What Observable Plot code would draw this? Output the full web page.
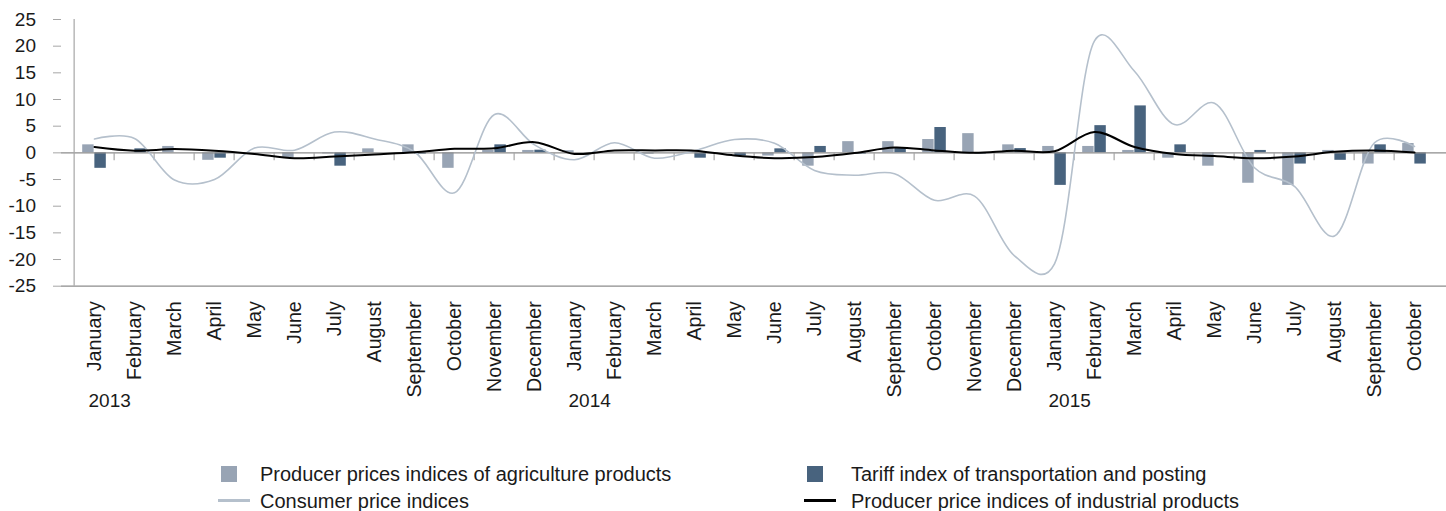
<!DOCTYPE html>
<html>
<head>
<meta charset="utf-8">
<script src="https://cdn.jsdelivr.net/npm/d3@7"></script>
<script src="https://cdn.jsdelivr.net/npm/@observablehq/plot@0.6"></script>
<style>
  html, body { margin: 0; padding: 0; background: #fff; }
  body { font-family: "Liberation Sans", Arial, sans-serif; }
  #wrap { position: relative; width: 1446px; height: 511px; overflow: hidden; }
  #chart svg { display: block; }
  .leg { position: absolute; font-size: 20px; line-height: 20px; color: #1a1a1a; white-space: nowrap; }
  .sw { position: absolute; }
</style>
</head>
<body>
<div id="wrap">
  <div id="chart"></div>
  <div id="legend"></div>
</div>
<script>
// ---- data ----
const periods = [
  "2013-01","2013-02","2013-03","2013-04","2013-05","2013-06","2013-07","2013-08","2013-09","2013-10","2013-11","2013-12",
  "2014-01","2014-02","2014-03","2014-04","2014-05","2014-06","2014-07","2014-08","2014-09","2014-10","2014-11","2014-12",
  "2015-01","2015-02","2015-03","2015-04","2015-05","2015-06","2015-07","2015-08","2015-09","2015-10"
];
const monthLabels = [
  "January","February","March","April","May","June","July","August","September","October","November","December",
  "January","February","March","April","May","June","July","August","September","October","November","December",
  "January","February","March","April","May","June","July","August","September","October"
];
const years = ["2013", "2014", "2015"];
const yearStarts = ["2013-01", "2014-01", "2015-01"];
const yTicks = [-25, -20, -15, -10, -5, 0, 5, 10, 15, 20, 25];

// Producer prices indices of agriculture products
const agriculture = [
  1.5, 0, 1.2, -1.4, 0, -0.9, -0.2, 0.75, 1.5, -2.9, 0.45, 0.45,
  0.4, 0, -0.25, 0, 0, -0.6, -2.5, 2.1, 2.1, 2.5, 3.6, 1.5,
  1.2, 1.2, 0.45, -1.0, -2.5, -5.7, -6.1, 0.45, -2.1, 1.75
];
// Tariff index of transportation and posting
const tariff = [
  -2.9, 0.75, 0, -1.0, 0, 0, -2.5, 0, -0.25, 0, 1.5, 0.5,
  0, 0, 0, -1.0, -0.6, 0.75, 1.2, -0.25, 1.0, 4.75, -0.25, 0.8,
  -6.1, 5.1, 8.8, 1.5, 0, 0.45, -2.1, -1.4, 1.5, -2.1
];
// Consumer price indices
const consumer = [
  2.6, 2.7, -5.1, -5.0, 0.9, 0.5, 3.9, 2.6, 0.2, -7.5, 7.2, 1.5,
  -1.3, 1.9, -1.0, 0.4, 2.5, 1.8, -3.3, -4.2, -3.9, -8.9, -8.1, -19.3,
  -20.8, 21.0, 15.3, 5.3, 9.3, -2.8, -6.3, -15.6, 1.9, 1.2
];
// Producer price indices of industrial products
const industrial = [
  1.1, 0.4, 0.7, 0.4, -0.2, -1.0, -0.7, -0.3, 0.1, 0.75, 0.85, 2.0,
  -0.2, 0.45, 0.45, 0.4, -0.5, -1.0, -0.8, -0.05, 1.0, 0.45, 0, 0.4,
  0.3, 3.9, 1.1, -0.2, -0.6, -1.0, -0.7, 0.2, 0.45, 0.05
];

const colors = {
  agriculture: "#98a4b4",
  tariff: "#48637e",
  consumer: "#b5c0cc",
  industrial: "#000000",
  axis: "#a6a6a6",
  zero: "#8c8c8c",
  text: "#1a1a1a"
};

// ---- layout ----
const W = 1446, H = 430;
const ML = 61, MR = 0, MT = 19, MB = H - 285.7;
const bw = (W - ML - MR) / periods.length;

const rows = periods.map((p, i) => ({
  p, agri: agriculture[i], tariff: tariff[i], cpi: consumer[i], ppi: industrial[i]
}));

const chart = Plot.plot({
  width: W, height: H,
  marginLeft: ML, marginRight: MR, marginTop: MT, marginBottom: MB,
  style: { fontFamily: "'Liberation Sans', Arial, sans-serif", background: "white", overflow: "visible" },
  x: { type: "band", domain: periods, padding: 0, axis: null, label: null },
  y: { domain: [-25, 25], axis: null, label: null },
  marks: [
    Plot.ruleY([-25], { stroke: colors.zero, strokeWidth: 1.2 }),
    Plot.barY(rows, { x: "p", y: "agri", fill: colors.agriculture, insetLeft: 8.2, insetRight: bw / 2 }),
    Plot.barY(rows, { x: "p", y: "tariff", fill: colors.tariff, insetLeft: bw / 2, insetRight: 8.2 }),
    Plot.ruleY([0], { stroke: colors.zero, strokeWidth: 1.2 }),
    Plot.ruleX(periods.slice(1), { x: d => d, y1: 0, y2: 0, insetBottom: -8, dx: -bw / 2, stroke: colors.axis, strokeWidth: 1.2 }),
    Plot.ruleX(periods.slice(0, 1), { x: d => d, y1: -25, y2: 25, dx: -bw / 2, stroke: colors.axis, strokeWidth: 1.2 }),
    Plot.line(rows, { x: "p", y: "cpi", curve: "catmull-rom", tension: 0.15, stroke: colors.consumer, strokeWidth: 1.6 }),
    Plot.line(rows, { x: "p", y: "ppi", curve: "catmull-rom", tension: 0.15, stroke: colors.industrial, strokeWidth: 2 }),
    Plot.axisY({ ticks: yTicks, tickSize: 8, tickPadding: 17.5, fontSize: 19, stroke: colors.axis, fill: colors.text,
      tickFormat: d => String(d), label: null }),
    Plot.axisX({ tickSize: 0, tickPadding: 15, tickRotate: -90, fontSize: 19.7, fill: colors.text, label: null,
      tickFormat: d => monthLabels[periods.indexOf(d)] }),
    Plot.text(yearStarts, { x: d => d, text: (d) => years[yearStarts.indexOf(d)], frameAnchor: "bottom",
      dy: 121, dx: -6, textAnchor: "start", fontSize: 19, fill: colors.text })
  ]
});
document.getElementById("chart").appendChild(chart);

// ---- legend (HTML, below the svg) ----
const legendItems = [
  { label: "Producer prices indices of agriculture products", kind: "box", color: colors.agriculture, sx: 221, tx: 260, row: 0 },
  { label: "Tariff index of transportation and posting", kind: "box", color: colors.tariff, sx: 807, tx: 851, row: 0 },
  { label: "Consumer price indices", kind: "line", color: colors.consumer, sx: 218, tx: 260, row: 1 },
  { label: "Producer price indices of industrial products", kind: "line", color: colors.industrial, sx: 804, tx: 851, row: 1 }
];
const rowCenters = [474, 500.5];
const legend = document.getElementById("legend");
for (const it of legendItems) {
  const c = rowCenters[it.row];
  const sw = document.createElement("div");
  sw.className = "sw";
  if (it.kind === "box") {
    Object.assign(sw.style, { left: it.sx + "px", top: (c - 8) + "px", width: "16px", height: "16px", background: it.color });
  } else {
    Object.assign(sw.style, { left: it.sx + "px", top: (c - 1.5) + "px", width: "32px", height: "3px", background: it.color });
  }
  legend.appendChild(sw);
  const t = document.createElement("div");
  t.className = "leg";
  t.textContent = it.label;
  Object.assign(t.style, { left: it.tx + "px", top: (c - 9.8) + "px" });
  legend.appendChild(t);
}
</script>
</body>
</html>
